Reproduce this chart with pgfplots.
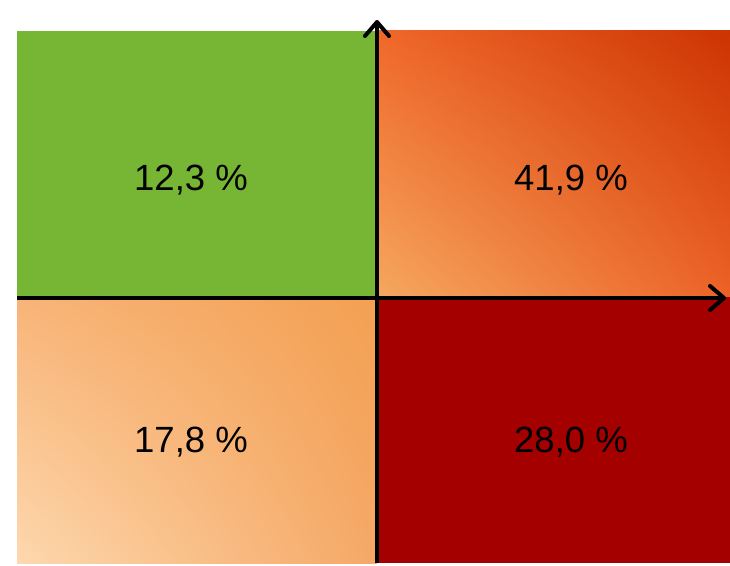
\documentclass[border=0pt]{standalone}
\usepackage{pgfplots}
\pgfplotsset{compat=1.18}
\usepackage{fontspec}
\setmainfont{Liberation Sans}
\usetikzlibrary{arrows.meta,shadings}
\definecolor{qgreen}{RGB}{119,181,52}
\definecolor{qred}{RGB}{165,0,0}
\definecolor{trUL}{RGB}{240,104,42}
\definecolor{trUR}{RGB}{204,52,2}
\definecolor{trLL}{RGB}{245,168,96}
\definecolor{trLR}{RGB}{236,98,38}
\definecolor{blUL}{RGB}{248,180,120}
\definecolor{blUR}{RGB}{243,160,82}
\definecolor{blLL}{RGB}{253,216,174}
\definecolor{blLR}{RGB}{245,168,102}
\begin{document}
\begin{tikzpicture}
\begin{axis}[
  scale only axis, width=730pt, height=563pt,
  xmin=0, xmax=730, ymin=0, ymax=563,
  hide axis, clip=false,
]
\addplot[draw=none, forget plot] coordinates {(0,0) (730,563)};
% quadrants
\addplot[draw=none, fill=qgreen] coordinates {(17,266) (377,266) (377,532) (17,532)} -- cycle;
\addplot[draw=none, upper left=trUL, upper right=trUR, lower left=trLL, lower right=trLR] coordinates {(377,266) (730,266) (730,532) (377,532)} -- cycle;
\addplot[draw=none, upper left=blUL, upper right=blUR, lower left=blLL, lower right=blLR] coordinates {(17,0) (377,0) (377,266) (17,266)} -- cycle;
\addplot[draw=none, fill=qred] coordinates {(377,0) (730,0) (730,266) (377,266)} -- cycle;
% axes
\addplot[black, line width=4pt, -{Straight Barb[length=14pt, width=24pt, line width=4pt, round]}] coordinates {(377,0) (377,543)};
\addplot[black, line width=4pt, -{Straight Barb[length=14pt, width=24pt, line width=4pt, round]}] coordinates {(17,265) (726,265)};
% labels
\node[anchor=base, font=\fontsize{36.5}{40}\selectfont] at (axis cs:191,372) {12,3 \%};
\node[anchor=base, font=\fontsize{36.5}{40}\selectfont] at (axis cs:571,372) {41,9 \%};
\node[anchor=base, font=\fontsize{36.5}{40}\selectfont] at (axis cs:191,111) {17,8 \%};
\node[anchor=base, font=\fontsize{36.5}{40}\selectfont] at (axis cs:571,111) {28,0 \%};
\end{axis}
\end{tikzpicture}
\end{document}
